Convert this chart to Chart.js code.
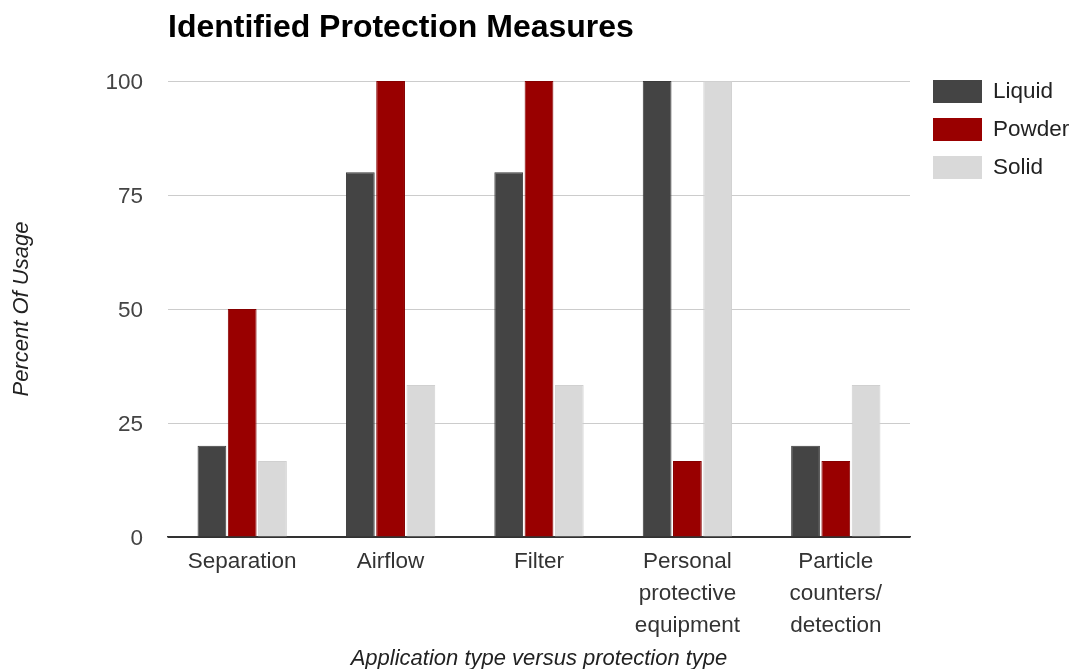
<!DOCTYPE html>
<html>
<head>
<meta charset="utf-8">
<script src="https://cdn.jsdelivr.net/npm/chart.js@4.4.1/dist/chart.umd.min.js"></script>
<style>
  html, body { margin: 0; padding: 0; background: #ffffff; }
  #wrap { width: 1078px; height: 669px; }
</style>
</head>
<body>
<div id="wrap"><canvas id="chart" width="1078" height="669"></canvas></div>
<script>
// Categories (multi-line labels) and the three series, in percent of usage
const categories = [
  ["Separation"],
  ["Airflow"],
  ["Filter"],
  ["Personal", "protective", "equipment"],
  ["Particle", "counters/", "detection"]
];
const liquidValues = [20, 80, 80, 100, 20];
const powderValues = [50, 100, 100, 16.67, 16.67];
const solidValues  = [16.67, 33.33, 33.33, 100, 33.33];
const seriesNames  = ["Liquid", "Powder", "Solid"];
const seriesColors = ["#444444", "#990000", "#d9d9d9"];
const seriesEdges  = ["#3a3a3a", "#850000", "#d0d0d0"];
const yTickValues  = [0, 25, 50, 75, 100];

const chartTitle = "Identified Protection Measures";
const xAxisTitle = "Application type versus protection type";
const yAxisTitle = "Percent Of Usage";

const FONT = "'Liberation Sans', Arial, Helvetica, sans-serif";

// Title drawn flush with the left edge of the plot area
const titlePlugin = {
  id: 'leftTitle',
  afterDraw(chart) {
    const { ctx, chartArea } = chart;
    ctx.save();
    ctx.font = "bold 32px " + FONT;
    ctx.fillStyle = "#000000";
    ctx.textAlign = "left";
    ctx.textBaseline = "alphabetic";
    ctx.fillText(chartTitle, chartArea.left, 37);
    ctx.restore();
  }
};

// Legend to the right of the plot, built from the datasets
const sideLegend = {
  id: 'sideLegend',
  afterDraw(chart) {
    const { ctx, chartArea } = chart;
    const x0 = chartArea.right + 23;
    ctx.save();
    chart.data.datasets.forEach((ds, i) => {
      const y = 80 + i * 38;
      ctx.fillStyle = ds.backgroundColor;
      ctx.fillRect(x0, y, 49, 23);
      ctx.fillStyle = "#222222";
      ctx.font = "22.5px " + FONT;
      ctx.textAlign = "left";
      ctx.textBaseline = "middle";
      ctx.fillText(ds.label, x0 + 60, y + 12);
    });
    ctx.restore();
  }
};

const datasets = [liquidValues, powderValues, solidValues].map((vals, i) => ({
  label: seriesNames[i],
  data: vals,
  backgroundColor: seriesColors[i],
  borderColor: seriesEdges[i],
  borderWidth: 1,
  categoryPercentage: 0.612,
  barPercentage: 0.95
}));

new Chart(document.getElementById('chart'), {
  type: 'bar',
  data: { labels: categories, datasets },
  plugins: [titlePlugin, sideLegend],
  options: {
    responsive: false,
    animation: false,
    layout: { padding: { top: 81, right: 168, left: 0, bottom: 0 } },
    plugins: {
      legend: { display: false },
      title: { display: false },
      tooltip: { enabled: false }
    },
    scales: {
      x: {
        afterFit(scale) { scale.height = 132; },
        grid: { display: false, drawTicks: false },
        border: { display: true, color: "#333333", width: 1.5 },
        ticks: {
          color: "#333333",
          padding: 9,
          maxRotation: 0,
          autoSkip: false,
          font: { family: FONT, size: 22.5, lineHeight: "32px" }
        },
        title: {
          display: true,
          text: xAxisTitle,
          color: "#222222",
          font: { family: FONT, size: 22, style: "italic", lineHeight: 0.8 },
          padding: { top: 0, bottom: 1 }
        }
      },
      y: {
        min: 0,
        max: 100,
        afterFit(scale) { scale.width = 168; },
        afterBuildTicks(scale) { scale.ticks = yTickValues.map(v => ({ value: v })); },
        grid: {
          drawTicks: false,
          color: (c) => (c.tick && c.tick.value === 0 ? "#333333" : "#cccccc"),
          lineWidth: 1
        },
        border: { display: false },
        ticks: {
          color: "#444444",
          padding: 25,
          labelOffset: 2,
          font: { family: FONT, size: 22.5 }
        },
        title: {
          display: true,
          text: yAxisTitle,
          color: "#222222",
          font: { family: FONT, size: 22, style: "italic", lineHeight: 1 },
          padding: { top: 11, bottom: 0 }
        }
      }
    }
  }
});
</script>
</body>
</html>
